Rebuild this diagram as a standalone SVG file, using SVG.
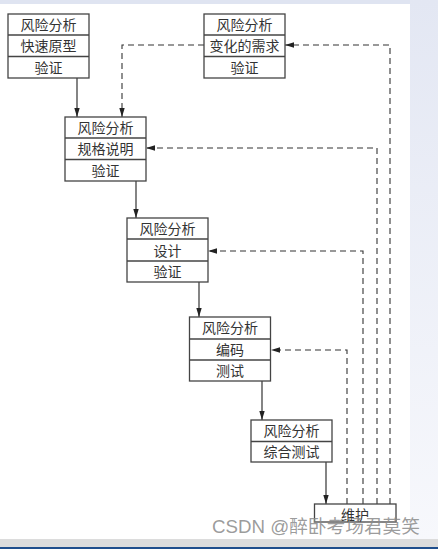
<svg xmlns="http://www.w3.org/2000/svg" width="438" height="549" viewBox="0 0 438 549">
<defs>
<linearGradient id="side" x1="0" y1="0" x2="0" y2="1">
<stop offset="0" stop-color="#e3e7f3"/>
<stop offset="1" stop-color="#f7f8fc"/>
</linearGradient>
<marker id="ah" viewBox="0 0 10 10" refX="10" refY="5" markerWidth="9" markerHeight="9" markerUnits="userSpaceOnUse" orient="auto">
<path d="M0,2 L10,5 L0,8 Z" fill="#222"/>
</marker>
<style>
.box{fill:#fff;stroke:#444;stroke-width:1.3}
.sep{stroke:#444;stroke-width:1.3}
.t{font-family:"Noto Sans CJK SC","Noto Sans CJK JP",sans-serif;font-size:14px;fill:#333;text-anchor:middle}
.solid{fill:none;stroke:#333;stroke-width:1.2}
.dash{fill:none;stroke:#333;stroke-width:1.1;stroke-dasharray:6,4}
</style>
</defs>
<rect x="0" y="0" width="438" height="549" fill="#fff"/>
<rect x="0" y="0" width="438" height="4" fill="#dfe4f1"/>
<rect x="410" y="0" width="28" height="540" fill="url(#side)"/>
<rect x="0" y="539" width="438" height="9" fill="#dcdcdc"/>
<rect x="0" y="547" width="438" height="2" fill="#1f4e8c"/>

<g id="connectors">
<line class="solid" x1="77" y1="78" x2="77" y2="117" marker-end="url(#ah)"/>
<line class="solid" x1="136" y1="181" x2="136" y2="218" marker-end="url(#ah)"/>
<line class="solid" x1="199" y1="282" x2="199" y2="317" marker-end="url(#ah)"/>
<line class="solid" x1="262" y1="381" x2="262" y2="420" marker-end="url(#ah)"/>
<line class="solid" x1="326" y1="462" x2="326" y2="504" marker-end="url(#ah)"/>
<polyline class="dash" points="204,45 122,45 122,117" marker-end="url(#ah)"/>
<polyline class="dash" points="390,504 390,45 285,45" marker-end="url(#ah)"/>
<polyline class="dash" points="377,504 377,148 146,148" marker-end="url(#ah)"/>
<polyline class="dash" points="363,504 363,251 208,251" marker-end="url(#ah)"/>
<polyline class="dash" points="347,504 347,350 271,350" marker-end="url(#ah)"/>
</g>

<g id="n1">
<rect class="box" x="8" y="14" width="81" height="64"/>
<line class="sep" x1="8" y1="35" x2="89" y2="35"/>
<line class="sep" x1="8" y1="56.5" x2="89" y2="56.5"/>
<text class="t" x="48.5" y="30">风险分析</text>
<text class="t" x="48.5" y="51">快速原型</text>
<text class="t" x="48.5" y="72.5">验证</text>
</g>

<g id="n2">
<rect class="box" x="204" y="14" width="81" height="64"/>
<line class="sep" x1="204" y1="35" x2="285" y2="35"/>
<line class="sep" x1="204" y1="56.5" x2="285" y2="56.5"/>
<text class="t" x="244.5" y="30">风险分析</text>
<text class="t" x="244.5" y="51">变化的需求</text>
<text class="t" x="244.5" y="72.5">验证</text>
</g>

<g id="n3">
<rect class="box" x="65" y="117" width="81" height="64"/>
<line class="sep" x1="65" y1="138" x2="146" y2="138"/>
<line class="sep" x1="65" y1="159.5" x2="146" y2="159.5"/>
<text class="t" x="105.5" y="133">风险分析</text>
<text class="t" x="105.5" y="154">规格说明</text>
<text class="t" x="105.5" y="175.5">验证</text>
</g>

<g id="n4">
<rect class="box" x="127" y="218" width="81" height="64"/>
<line class="sep" x1="127" y1="239" x2="208" y2="239"/>
<line class="sep" x1="127" y1="261" x2="208" y2="261"/>
<text class="t" x="167.5" y="234">风险分析</text>
<text class="t" x="167.5" y="255.5">设计</text>
<text class="t" x="167.5" y="276.5">验证</text>
</g>

<g id="n5">
<rect class="box" x="189.5" y="317" width="81" height="64"/>
<line class="sep" x1="189.5" y1="339" x2="270.5" y2="339"/>
<line class="sep" x1="189.5" y1="360" x2="270.5" y2="360"/>
<text class="t" x="230" y="333">风险分析</text>
<text class="t" x="230" y="354.5">编码</text>
<text class="t" x="230" y="375.5">测试</text>
</g>

<g id="n6">
<rect class="box" x="251" y="420" width="81" height="42"/>
<line class="sep" x1="251" y1="441.5" x2="332" y2="441.5"/>
<text class="t" x="291.5" y="436">风险分析</text>
<text class="t" x="291.5" y="457">综合测试</text>
</g>

<g id="n7">
<rect class="box" x="314.5" y="504" width="81.5" height="18"/>
<text class="t" x="355" y="520">维护</text>
</g>

<text x="212" y="533" textLength="208" lengthAdjust="spacingAndGlyphs" style="font-family:'Liberation Sans','Noto Sans CJK SC',sans-serif;font-size:18px;fill:#8a8a8a;fill-opacity:0.85">CSDN @醉卧考场君莫笑</text>
</svg>
